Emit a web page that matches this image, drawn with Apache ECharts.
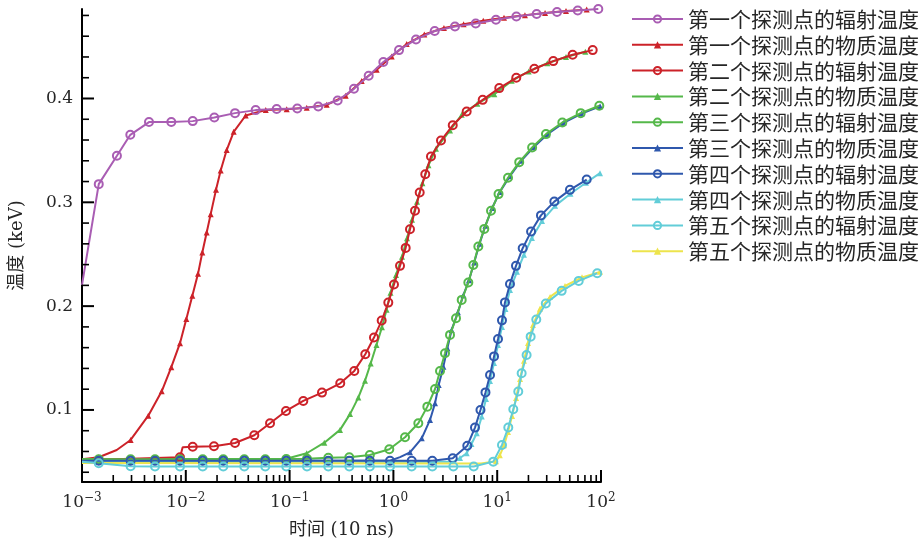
<!DOCTYPE html>
<html>
<head>
<meta charset="utf-8">
<script src="https://cdn.jsdelivr.net/npm/echarts@6/dist/echarts.min.js"></script>
<style>
html, body { margin: 0; padding: 0; background: #fff; }
#chart { width: 923px; height: 548px; }
</style>
</head>
<body>
<div id="chart"></div>
<script>
// 每个点: [时间 (10 ns), 温度 (keV)]，第三项为 0 时不画标记
const rad1 = [[0.001,0.2205,0],[0.00145,0.3175],[0.00217,0.3448],[0.00292,0.3650],[0.00442,0.3773],[0.00725,0.3773],[0.01166,0.3782],[0.01883,0.3817],[0.02979,0.3859],[0.0471,0.3888],[0.0751,0.3898],[0.1186,0.3904],[0.1889,0.3923],[0.2904,0.3981],[0.417,0.4093],[0.578,0.4219],[0.800,0.4351],[1.133,0.4466],[1.651,0.4569],[2.50,0.4650],[3.92,0.4694],[6.21,0.4723],[9.73,0.4758],[15.3,0.4790],[24.0,0.4813],[37.7,0.4833],[59.7,0.4848],[94.2,0.4862]];
const mat1 = [[0.001,0.0525,0],[0.00145,0.0544],[0.00216,0.0614,0],[0.00294,0.0711],[0.00435,0.0945],[0.00586,0.1180],[0.00725,0.1412],[0.00879,0.1643],[0.01012,0.1877],[0.01156,0.2099],[0.01311,0.2311],[0.01442,0.2516],[0.01589,0.2709],[0.01737,0.2886],[0.01954,0.3120],[0.02168,0.3306],[0.02477,0.3503],[0.02893,0.3679],[0.03775,0.3836],[0.0589,0.3890],[0.0938,0.3896],[0.1462,0.3912],[0.2276,0.3940],[0.347,0.4026],[0.495,0.4168],[0.690,0.4277],[0.963,0.4405],[1.343,0.4524],[1.986,0.4617],[3.07,0.4680],[4.75,0.4715],[7.34,0.4748],[11.63,0.4778],[18.5,0.4803],[28.9,0.4824],[46.0,0.4842],[72.8,0.4856]];
const rad2 = [[0.001,0.0515,0],[0.00879,0.0544],[0.00933,0.0641,0],[0.01166,0.0646],[0.01869,0.0650],[0.02979,0.0682],[0.0457,0.0756],[0.0648,0.0872],[0.0923,0.0990],[0.1355,0.1087],[0.2051,0.1167],[0.3076,0.1257],[0.420,0.1376],[0.536,0.1537],[0.650,0.1697],[0.771,0.1861],[0.893,0.2034],[1.013,0.2208],[1.158,0.2388],[1.313,0.2561],[1.445,0.2741],[1.615,0.2918],[1.792,0.3094],[2.028,0.3271],[2.301,0.3441],[2.874,0.3595],[3.73,0.3742],[5.08,0.3875],[7.25,0.3987],[10.47,0.4100],[15.27,0.4199],[22.8,0.4286],[34.7,0.4360],[53.3,0.4421],[83.2,0.4466]];
const mat2 = [[0.001,0.0525,0],[0.0929,0.0530,0],[0.1462,0.0583],[0.2159,0.0685],[0.306,0.0808],[0.382,0.0960],[0.459,0.1119],[0.533,0.1282],[0.604,0.1448],[0.687,0.1626],[0.776,0.1797],[0.859,0.1964],[0.938,0.2130],[1.059,0.2301],[1.211,0.2475],[1.352,0.2653],[1.510,0.2831],[1.687,0.3005],[1.905,0.3183],[2.177,0.3356],[2.570,0.3515],[3.51,0.3692],[4.55,0.3843],[6.43,0.3950],[9.38,0.4042],[13.8,0.4170],[20.1,0.4260],[30.4,0.4340],[46.0,0.4400],[70.6,0.4450]];
const rad3 = [[0.001,0.0525,0],[0.00145,0.0525],[0.00294,0.0525],[0.00505,0.0525],[0.00879,0.0525],[0.01455,0.0525],[0.02297,0.0525],[0.03661,0.0525],[0.0583,0.0525],[0.0929,0.0527],[0.1471,0.0530],[0.236,0.0540],[0.376,0.0544],[0.593,0.0566],[0.913,0.0621],[1.294,0.0737],[1.738,0.0872],[2.123,0.1032],[2.518,0.1202],[2.812,0.1376],[3.141,0.1546],[3.51,0.1723],[4.01,0.1884],[4.55,0.2060],[5.27,0.2227],[5.89,0.2397],[6.58,0.2574],[7.51,0.2744],[8.72,0.2918],[10.3,0.3079],[12.71,0.3236],[16.3,0.3387],[21.7,0.3528],[29.5,0.3657],[42.4,0.3769],[63.7,0.3859],[96.3,0.3930]];
const mat3 = [[0.001,0.0511,0],[0.927,0.0511,0],[1.158,0.0546,0],[1.445,0.0592],[1.875,0.0727],[2.253,0.0904],[2.518,0.1065],[2.731,0.1241],[3.03,0.1417],[3.31,0.1595],[3.64,0.1771],[4.18,0.1940],[4.72,0.2105],[5.35,0.2250],[6.0,0.2420],[6.75,0.2600],[7.7,0.2775],[8.95,0.2945],[10.6,0.3100],[13.2,0.3250],[17.0,0.3400],[22.4,0.3530],[30.5,0.3655],[43.5,0.3765],[65,0.3855],[98,0.3925]];
const rad4 = [[0.001,0.0511,0],[0.00145,0.0511],[0.00294,0.0511],[0.00505,0.0511],[0.00879,0.0511],[0.01455,0.0511],[0.02297,0.0511],[0.03661,0.0511],[0.0583,0.0511],[0.0929,0.0511],[0.1471,0.0511],[0.236,0.0511],[0.376,0.0511],[0.593,0.0511],[0.927,0.0511],[1.500,0.0511],[2.371,0.0511],[3.73,0.0535],[5.15,0.0656],[6.11,0.0830],[6.90,0.1000],[7.71,0.1169],[8.53,0.1337],[9.32,0.1516],[10.18,0.1684],[11.12,0.1863],[11.88,0.2036],[13.28,0.2214],[15.17,0.2388],[17.6,0.2558],[21.2,0.2718],[26.4,0.2874],[35.5,0.3007],[50.2,0.3120],[72.8,0.3219]];
const mat4 = [[0.001,0.0500,0],[3.78,0.0501,0],[4.38,0.0537],[5.08,0.0583],[5.65,0.0672],[6.35,0.0775],[7.10,0.0936],[7.80,0.1106],[8.53,0.1280],[9.32,0.1453],[10.18,0.1626],[11.12,0.1800],[12.0,0.1973],[13.28,0.2156],[15.5,0.2330],[18.1,0.2494],[21.6,0.2657],[27.0,0.2821],[36.1,0.2966],[50.8,0.3082],[71.6,0.3188],[97.8,0.3281]];
const rad5 = [[0.001,0.0501,0],[0.00145,0.0487],[0.00294,0.0458],[0.00505,0.0456],[0.00879,0.0456],[0.01455,0.0456],[0.02297,0.0456],[0.03661,0.0456],[0.0583,0.0456],[0.0929,0.0456],[0.1471,0.0456],[0.236,0.0456],[0.376,0.0456],[0.593,0.0456],[0.927,0.0456],[1.500,0.0456],[2.371,0.0456],[3.78,0.0455],[5.94,0.0455],[9.17,0.0502],[11.12,0.0663],[12.79,0.0831],[14.29,0.1007],[15.96,0.1178],[17.2,0.1354],[19.2,0.1530],[21.0,0.1706],[23.8,0.1872],[29.4,0.2026],[41.8,0.2147],[61.0,0.2243],[92.0,0.2317]];
const mat5 = [[0.001,0.0490,0],[7.0,0.0484,0],[9.73,0.0505],[10.6,0.0563],[11.63,0.0659],[12.71,0.0788],[13.9,0.0942],[15.2,0.1116],[16.6,0.1299],[18.1,0.1473],[19.8,0.1646],[22.1,0.1819],[25.8,0.1974],[32.3,0.2089],[45.0,0.2194],[65.6,0.2277],[97.8,0.2330]];

const names = ['第一个探测点的辐射温度', '第一个探测点的物质温度', '第二个探测点的辐射温度', '第二个探测点的物质温度',
  '第三个探测点的辐射温度', '第三个探测点的物质温度', '第四个探测点的辐射温度', '第四个探测点的物质温度',
  '第五个探测点的辐射温度', '第五个探测点的物质温度'];
const seriesData = [rad1, mat1, rad2, mat2, rad3, mat3, rad4, mat4, rad5, mat5];
const colors = ['#a95db3', '#cc2229', '#cc2229', '#55b84a', '#55b84a', '#2f58ad', '#2f58ad', '#62cdd8', '#62cdd8', '#ede44c'];

const xMin = 0.001, xMax = 100;
const yMin = 0.0306, yMax = 0.4862;
const yMajor = [0.1, 0.2, 0.3, 0.4];
const yMinor = [0.04, 0.06, 0.08, 0.12, 0.14, 0.16, 0.18, 0.22, 0.24, 0.26, 0.28, 0.32, 0.34, 0.36, 0.38, 0.42, 0.44, 0.46, 0.48];
const xMajor = [0.001, 0.01, 0.1, 1, 10, 100];
// 次刻度 2..9 × 10^n
const xMinor = [];
for (let n = -3; n < 2; n++) {
  for (let k = 2; k <= 9; k++) xMinor.push(k * Math.pow(10, n));
}

const serif = 'DejaVu Serif, Noto Sans CJK SC';
const series = seriesData.map((d, i) => {
  const circle = i % 2 === 0;
  return {
    name: names[i],
    type: 'line',
    z: circle ? 3 : 2,
    symbol: circle ? 'circle' : 'triangle',
    symbolSize: circle ? 8 : 6,
    showAllSymbol: true,
    lineStyle: { color: colors[i], width: 2 },
    itemStyle: circle
      ? { color: 'rgba(255,255,255,0)', borderColor: colors[i], borderWidth: 2 }
      : { color: colors[i], borderWidth: 0 },
    emphasis: { disabled: true },
    data: d.map(p => p[2] === 0 ? { value: [p[0], p[1]], symbol: 'none' } : [p[0], p[1]])
  };
});

const chart = echarts.init(document.getElementById('chart'));
chart.setOption({
  animation: false,
  backgroundColor: '#fff',
  grid: { left: 82, right: 322, top: 9, bottom: 66 },
  legend: {
    orient: 'vertical',
    left: 626,
    top: 3,
    itemWidth: 51,
    itemHeight: 9,
    itemGap: 3.8,
    textStyle: { fontFamily: 'Noto Sans CJK SC', fontSize: 21, lineHeight: 22, color: '#262626' },
    data: names
  },
  xAxis: {
    type: 'log',
    logBase: 10,
    min: xMin,
    max: xMax,
    name: '时间 (10 ns)',
    nameLocation: 'middle',
    nameGap: 39,
    nameTextStyle: { fontFamily: serif, fontSize: 18, color: '#262626' },
    axisLine: { onZero: false, lineStyle: { color: '#000', width: 2 } },
    axisTick: { show: false },
    axisLabel: {
      margin: 10,
      formatter: v => {
        const e = Math.round(Math.log10(v));
        return '{b|10}{s|' + (e < 0 ? '\u2212' + (-e) : e) + '}';
      },
      rich: {
        b: { fontFamily: 'DejaVu Serif', fontSize: 17, color: '#262626', lineHeight: 22 },
        s: { fontFamily: 'DejaVu Serif', fontSize: 12, color: '#262626', verticalAlign: 'top' }
      }
    },
    splitLine: { show: false }
  },
  yAxis: {
    type: 'value',
    min: yMin,
    max: yMax,
    name: '温度 (keV)',
    nameLocation: 'middle',
    nameGap: 56,
    nameTextStyle: { fontFamily: serif, fontSize: 18, color: '#262626' },
    axisLine: { show: true, onZero: false, lineStyle: { color: '#000', width: 2 } },
    axisTick: { show: false },
    axisLabel: {
      customValues: yMajor,
      formatter: v => v.toFixed(1),
      margin: 9,
      fontFamily: 'DejaVu Serif',
      fontSize: 17,
      color: '#262626'
    },
    splitLine: { show: false }
  },
  series: series
});

// 朝内的刻度线：位置用坐标轴换算成像素后画成图形元素
const tickLines = [];
const addTick = (x1, y1, x2, y2, major) => tickLines.push({
  type: 'line',
  silent: true,
  z: 100,
  shape: { x1: x1, y1: y1, x2: x2, y2: y2 },
  style: { stroke: '#000', lineWidth: major ? 2 : 1.6 }
});
xMajor.concat(xMinor).forEach((v, i) => {
  const major = i < xMajor.length;
  const p = chart.convertToPixel({ gridIndex: 0 }, [v, yMin]);
  addTick(p[0], p[1], p[0], p[1] - (major ? 12 : 7), major);
});
yMajor.concat(yMinor).forEach((v, i) => {
  const major = i < yMajor.length;
  const p = chart.convertToPixel({ gridIndex: 0 }, [xMin, v]);
  addTick(p[0], p[1], p[0] + (major ? 12 : 7), p[1], major);
});
chart.setOption({ graphic: tickLines });
</script>
</body>
</html>
